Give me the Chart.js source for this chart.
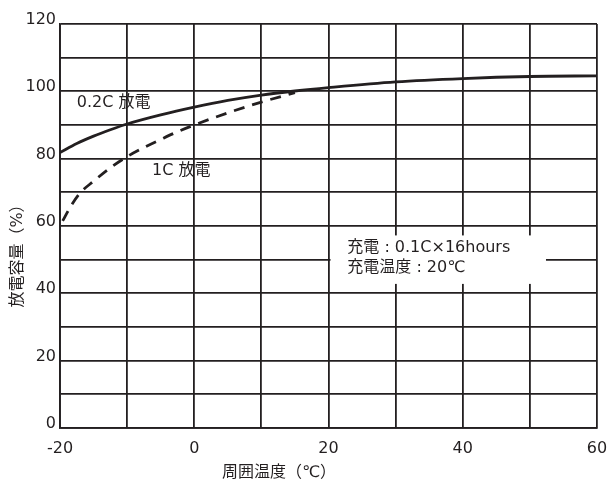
<!DOCTYPE html>
<html>
<head>
<meta charset="utf-8">
<script src="https://cdn.jsdelivr.net/npm/chart.js@4"></script>
<style>
  html, body { margin: 0; padding: 0; background: #fff; }
  #wrap { width: 612px; height: 482px; }
</style>
</head>
<body>
<div id="wrap"><canvas id="chart" width="612" height="482"></canvas></div>
<script>
// Data
const tempSlow = [-20, -17.5, -15, -12.5, -10, -5, 0, 5, 10, 15, 20, 30, 40, 50, 60];
const capSlow = [81.8, 84.5, 86.7, 88.6, 90.3, 93.0, 95.3, 97.3, 98.9, 100.1, 101.1, 102.8, 103.8, 104.4, 104.6];

const tempFast = [-19.6, -18.5, -17, -15, -12.5, -10, -7.5, -5, -2.5, 0, 5, 10, 15];
const capFast = [61.5, 65.5, 69.8, 73.3, 77.3, 80.6, 83.3, 85.7, 88, 90, 93.6, 96.8, 99.6];

const xTickLabels = [-20, 0, 20, 40, 60];
const yTickLabels = [0, 20, 40, 60, 80, 100, 120];

const seriesNames = ['0.2C 放電', '1C 放電'];
const noteLines = ['充電 : 0.1C×16hours', '充電温度 : 20℃'];
const xTitle = '周囲温度（℃）';
const yTitle = '放電容量（%）';

const ink = '#231f20';
const jpFont = '16px "DejaVu Sans", "Noto Sans CJK JP"';

function toPoints(xs, ys) {
    return xs.map((x, i) => ({ x: x, y: ys[i] }));
}

// Text labels, note box and axis titles drawn on top of the grid
const annotatePlugin = {
    id: 'annotate',
    afterDatasetsDraw(chart) {
        const ctx = chart.ctx;
        const x = chart.scales.x;
        const y = chart.scales.y;
        ctx.save();

        // white box behind the charge note
        const bx0 = x.getPixelForValue(20.3);
        const bx1 = x.getPixelForValue(52.4);
        const by0 = y.getPixelForValue(57.2);
        const by1 = y.getPixelForValue(42.8);
        ctx.fillStyle = '#fff';
        ctx.fillRect(bx0, by0, bx1 - bx0, by1 - by0);

        ctx.fillStyle = ink;
        ctx.font = jpFont;
        ctx.textBaseline = 'middle';
        ctx.textAlign = 'left';
        ctx.fillText(seriesNames[0], x.getPixelForValue(-17.5), y.getPixelForValue(96.5));
        ctx.fillText(seriesNames[1], x.getPixelForValue(-6.3), y.getPixelForValue(76.5));
        ctx.fillText(noteLines[0], x.getPixelForValue(22.8), y.getPixelForValue(53.4));
        ctx.fillText(noteLines[1], x.getPixelForValue(22.8), y.getPixelForValue(47.5));

        // axis titles
        ctx.textAlign = 'center';
        ctx.fillText(xTitle, 279, 473);
        ctx.translate(18, 252);
        ctx.rotate(-Math.PI / 2);
        ctx.fillText(yTitle, 0, 0);
        ctx.restore();
    }
};

const ctx = document.getElementById('chart').getContext('2d');
new Chart(ctx, {
    type: 'line',
    data: {
        datasets: [{
            label: seriesNames[0],
            data: toPoints(tempSlow, capSlow),
            borderColor: ink,
            borderWidth: 2.8,
            pointRadius: 0,
            fill: false,
            cubicInterpolationMode: 'monotone'
        }, {
            label: seriesNames[1],
            data: toPoints(tempFast, capFast),
            borderColor: ink,
            borderWidth: 2.8,
            borderDash: [11, 8],
            pointRadius: 0,
            fill: false,
            cubicInterpolationMode: 'monotone'
        }]
    },
    options: {
        responsive: false,
        animation: false,
        layout: {
            padding: { top: 24, right: 15, left: 0, bottom: 0 }
        },
        scales: {
            x: {
                type: 'linear',
                min: -20,
                max: 60,
                afterFit: (scale) => {
                    scale.height = 54;
                    scale.paddingLeft = 0;
                    scale.paddingRight = 0;
                },
                grid: { color: ink, lineWidth: 1.8, drawTicks: false },
                border: { color: ink, width: 1.8 },
                ticks: {
                    stepSize: 10,
                    padding: 11,
                    color: ink,
                    font: { family: '"DejaVu Sans"', size: 16 },
                    callback: (v) => xTickLabels.includes(v) ? String(v) : ''
                }
            },
            y: {
                min: 0,
                max: 120,
                afterFit: (scale) => {
                    scale.width = 60;
                    scale.paddingTop = 0;
                    scale.paddingBottom = 0;
                },
                grid: { color: ink, lineWidth: 1.8, drawTicks: false },
                border: { color: ink, width: 1.8 },
                ticks: {
                    stepSize: 10,
                    padding: 4,
                    labelOffset: -4,
                    color: ink,
                    font: { family: '"DejaVu Sans"', size: 16 },
                    callback: (v) => yTickLabels.includes(v) ? String(v) : ''
                }
            }
        },
        plugins: {
            legend: { display: false },
            title: { display: false },
            tooltip: { enabled: false }
        }
    },
    plugins: [annotatePlugin]
});
</script>
</body>
</html>
